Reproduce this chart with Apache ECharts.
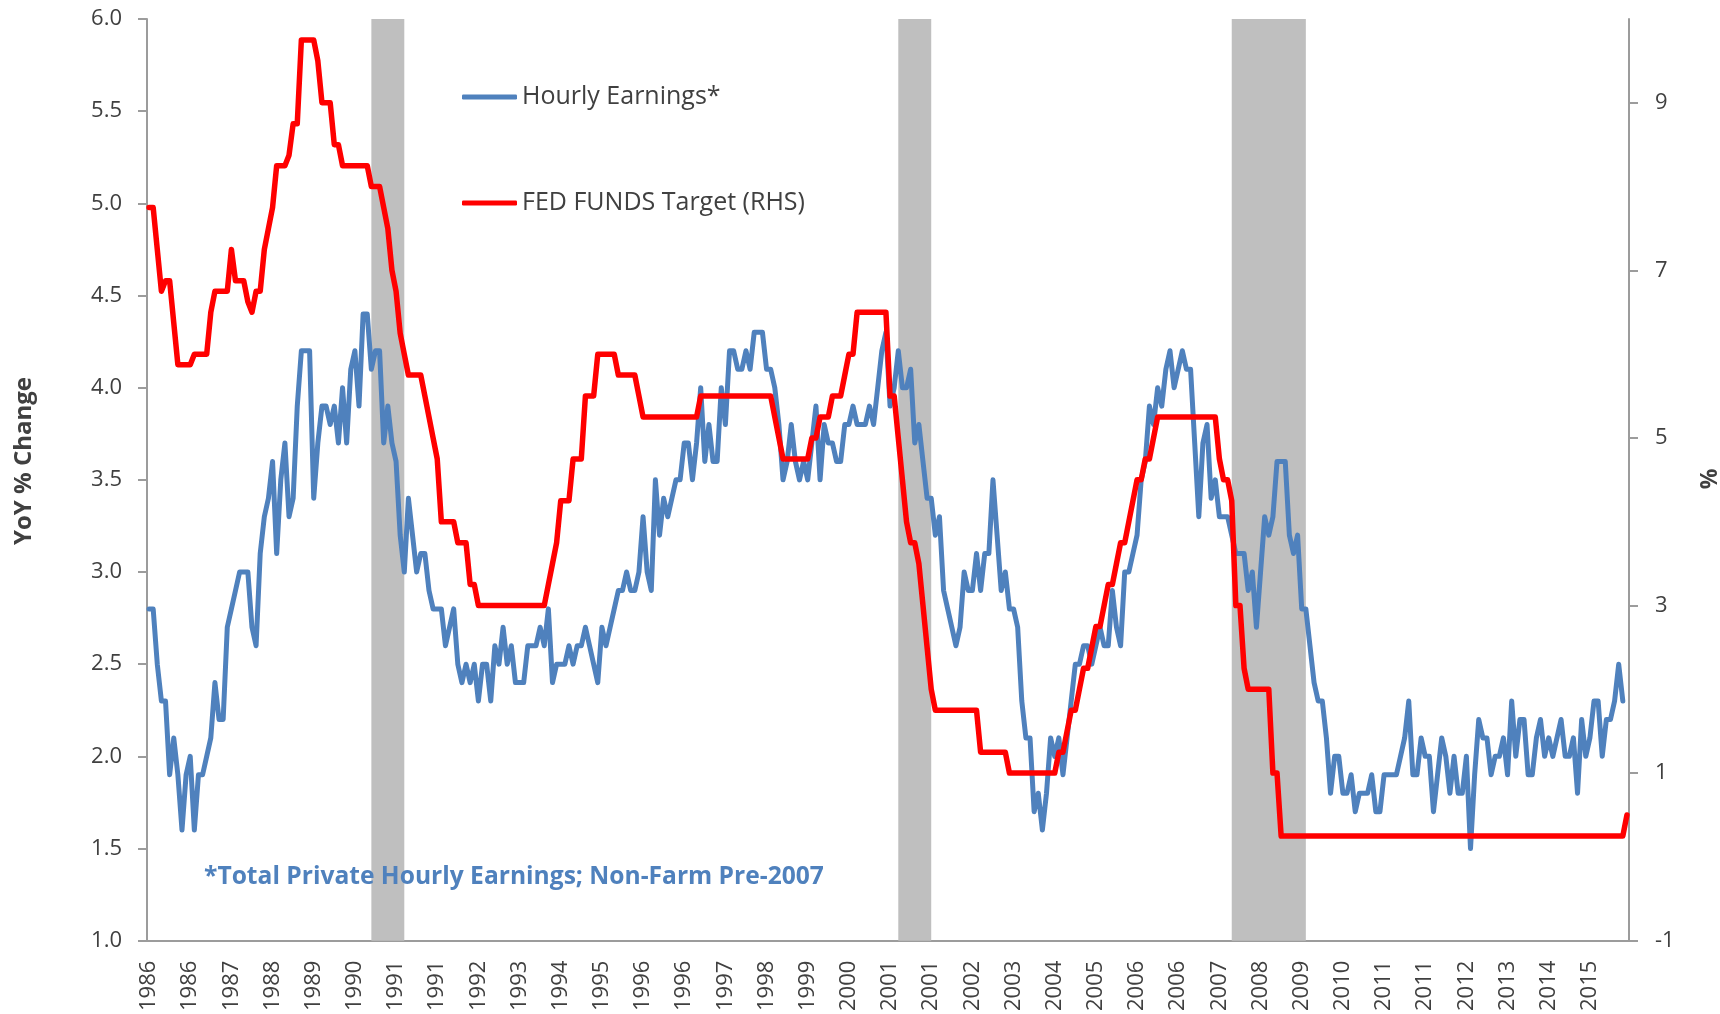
<!DOCTYPE html>
<html>
<head>
<meta charset="utf-8">
<title>Hourly Earnings vs Fed Funds Target</title>
<script src="https://cdn.jsdelivr.net/npm/echarts@6/dist/echarts.min.js"></script>
<style>
  html, body { margin: 0; padding: 0; background: #fff; }
  #chart { width: 1720px; height: 1014px; }
</style>
</head>
<body>
<div id="chart"></div>
<script>
const startYear = 1986;
const endYear = 2015;

// YoY % change of hourly earnings, one row per year (Jan..Dec)
const hourlyEarnings = [
  [2.8, 2.8, 2.5, 2.3, 2.3, 1.9, 2.1, 1.9, 1.6, 1.9, 2.0, 1.6], // 1986
  [1.9, 1.9, 2.0, 2.1, 2.4, 2.2, 2.2, 2.7, 2.8, 2.9, 3.0, 3.0],
  [3.0, 2.7, 2.6, 3.1, 3.3, 3.4, 3.6, 3.1, 3.5, 3.7, 3.3, 3.4],
  [3.9, 4.2, 4.2, 4.2, 3.4, 3.7, 3.9, 3.9, 3.8, 3.9, 3.7, 4.0],
  [3.7, 4.1, 4.2, 3.9, 4.4, 4.4, 4.1, 4.2, 4.2, 3.7, 3.9, 3.7], // 1990
  [3.6, 3.2, 3.0, 3.4, 3.2, 3.0, 3.1, 3.1, 2.9, 2.8, 2.8, 2.8],
  [2.6, 2.7, 2.8, 2.5, 2.4, 2.5, 2.4, 2.5, 2.3, 2.5, 2.5, 2.3],
  [2.6, 2.5, 2.7, 2.5, 2.6, 2.4, 2.4, 2.4, 2.6, 2.6, 2.6, 2.7],
  [2.6, 2.8, 2.4, 2.5, 2.5, 2.5, 2.6, 2.5, 2.6, 2.6, 2.7, 2.6],
  [2.5, 2.4, 2.7, 2.6, 2.7, 2.8, 2.9, 2.9, 3.0, 2.9, 2.9, 3.0], // 1995
  [3.3, 3.0, 2.9, 3.5, 3.2, 3.4, 3.3, 3.4, 3.5, 3.5, 3.7, 3.7],
  [3.5, 3.7, 4.0, 3.6, 3.8, 3.6, 3.6, 4.0, 3.8, 4.2, 4.2, 4.1],
  [4.1, 4.2, 4.1, 4.3, 4.3, 4.3, 4.1, 4.1, 4.0, 3.8, 3.5, 3.6],
  [3.8, 3.6, 3.5, 3.6, 3.5, 3.7, 3.9, 3.5, 3.8, 3.7, 3.7, 3.6],
  [3.6, 3.8, 3.8, 3.9, 3.8, 3.8, 3.8, 3.9, 3.8, 4.0, 4.2, 4.3], // 2000
  [3.9, 4.0, 4.2, 4.0, 4.0, 4.1, 3.7, 3.8, 3.6, 3.4, 3.4, 3.2],
  [3.3, 2.9, 2.8, 2.7, 2.6, 2.7, 3.0, 2.9, 2.9, 3.1, 2.9, 3.1],
  [3.1, 3.5, 3.2, 2.9, 3.0, 2.8, 2.8, 2.7, 2.3, 2.1, 2.1, 1.7],
  [1.8, 1.6, 1.8, 2.1, 2.0, 2.1, 1.9, 2.1, 2.3, 2.5, 2.5, 2.6],
  [2.6, 2.5, 2.6, 2.7, 2.6, 2.6, 2.9, 2.7, 2.6, 3.0, 3.0, 3.1], // 2005
  [3.2, 3.5, 3.6, 3.9, 3.8, 4.0, 3.9, 4.1, 4.2, 4.0, 4.1, 4.2],
  [4.1, 4.1, 3.7, 3.3, 3.7, 3.8, 3.4, 3.5, 3.3, 3.3, 3.3, 3.2],
  [3.1, 3.1, 3.1, 2.9, 3.0, 2.7, 3.0, 3.3, 3.2, 3.3, 3.6, 3.6],
  [3.6, 3.2, 3.1, 3.2, 2.8, 2.8, 2.6, 2.4, 2.3, 2.3, 2.1, 1.8],
  [2.0, 2.0, 1.8, 1.8, 1.9, 1.7, 1.8, 1.8, 1.8, 1.9, 1.7, 1.7], // 2010
  [1.9, 1.9, 1.9, 1.9, 2.0, 2.1, 2.3, 1.9, 1.9, 2.1, 2.0, 2.0],
  [1.7, 1.9, 2.1, 2.0, 1.8, 2.0, 1.8, 1.8, 2.0, 1.5, 1.9, 2.2],
  [2.1, 2.1, 1.9, 2.0, 2.0, 2.1, 1.9, 2.3, 2.0, 2.2, 2.2, 1.9],
  [1.9, 2.1, 2.2, 2.0, 2.1, 2.0, 2.1, 2.2, 2.0, 2.0, 2.1, 1.8],
  [2.2, 2.0, 2.1, 2.3, 2.3, 2.0, 2.2, 2.2, 2.3, 2.5, 2.3]        // 2015
];

// Fed funds target, end of month (RHS)
const fedFunds = [
  [7.75, 7.75, 7.25, 6.75, 6.875, 6.875, 6.375, 5.875, 5.875, 5.875, 5.875, 6.0], // 1986
  [6.0, 6.0, 6.0, 6.5, 6.75, 6.75, 6.75, 6.75, 7.25, 6.875, 6.875, 6.875],
  [6.625, 6.5, 6.75, 6.75, 7.25, 7.5, 7.75, 8.25, 8.25, 8.25, 8.375, 8.75],
  [8.75, 9.75, 9.75, 9.75, 9.75, 9.5, 9.0, 9.0, 9.0, 8.5, 8.5, 8.25],
  [8.25, 8.25, 8.25, 8.25, 8.25, 8.25, 8.0, 8.0, 8.0, 7.75, 7.5, 7.0], // 1990
  [6.75, 6.25, 6.0, 5.75, 5.75, 5.75, 5.75, 5.5, 5.25, 5.0, 4.75, 4.0],
  [4.0, 4.0, 4.0, 3.75, 3.75, 3.75, 3.25, 3.25, 3.0, 3.0, 3.0, 3.0],
  [3.0, 3.0, 3.0, 3.0, 3.0, 3.0, 3.0, 3.0, 3.0, 3.0, 3.0, 3.0],
  [3.0, 3.25, 3.5, 3.75, 4.25, 4.25, 4.25, 4.75, 4.75, 4.75, 5.5, 5.5],
  [5.5, 6.0, 6.0, 6.0, 6.0, 6.0, 5.75, 5.75, 5.75, 5.75, 5.75, 5.5], // 1995
  [5.25, 5.25, 5.25, 5.25, 5.25, 5.25, 5.25, 5.25, 5.25, 5.25, 5.25, 5.25],
  [5.25, 5.25, 5.5, 5.5, 5.5, 5.5, 5.5, 5.5, 5.5, 5.5, 5.5, 5.5],
  [5.5, 5.5, 5.5, 5.5, 5.5, 5.5, 5.5, 5.5, 5.25, 5.0, 4.75, 4.75],
  [4.75, 4.75, 4.75, 4.75, 4.75, 5.0, 5.0, 5.25, 5.25, 5.25, 5.5, 5.5],
  [5.5, 5.75, 6.0, 6.0, 6.5, 6.5, 6.5, 6.5, 6.5, 6.5, 6.5, 6.5], // 2000
  [5.5, 5.5, 5.0, 4.5, 4.0, 3.75, 3.75, 3.5, 3.0, 2.5, 2.0, 1.75],
  [1.75, 1.75, 1.75, 1.75, 1.75, 1.75, 1.75, 1.75, 1.75, 1.75, 1.25, 1.25],
  [1.25, 1.25, 1.25, 1.25, 1.25, 1.0, 1.0, 1.0, 1.0, 1.0, 1.0, 1.0],
  [1.0, 1.0, 1.0, 1.0, 1.0, 1.25, 1.25, 1.5, 1.75, 1.75, 2.0, 2.25],
  [2.25, 2.5, 2.75, 2.75, 3.0, 3.25, 3.25, 3.5, 3.75, 3.75, 4.0, 4.25], // 2005
  [4.5, 4.5, 4.75, 4.75, 5.0, 5.25, 5.25, 5.25, 5.25, 5.25, 5.25, 5.25],
  [5.25, 5.25, 5.25, 5.25, 5.25, 5.25, 5.25, 5.25, 4.75, 4.5, 4.5, 4.25],
  [3.0, 3.0, 2.25, 2.0, 2.0, 2.0, 2.0, 2.0, 2.0, 1.0, 1.0, 0.25],
  [0.25, 0.25, 0.25, 0.25, 0.25, 0.25, 0.25, 0.25, 0.25, 0.25, 0.25, 0.25],
  [0.25, 0.25, 0.25, 0.25, 0.25, 0.25, 0.25, 0.25, 0.25, 0.25, 0.25, 0.25], // 2010
  [0.25, 0.25, 0.25, 0.25, 0.25, 0.25, 0.25, 0.25, 0.25, 0.25, 0.25, 0.25],
  [0.25, 0.25, 0.25, 0.25, 0.25, 0.25, 0.25, 0.25, 0.25, 0.25, 0.25, 0.25],
  [0.25, 0.25, 0.25, 0.25, 0.25, 0.25, 0.25, 0.25, 0.25, 0.25, 0.25, 0.25],
  [0.25, 0.25, 0.25, 0.25, 0.25, 0.25, 0.25, 0.25, 0.25, 0.25, 0.25, 0.25],
  [0.25, 0.25, 0.25, 0.25, 0.25, 0.25, 0.25, 0.25, 0.25, 0.25, 0.25, 0.5]   // 2015
];

// recession shading (start month, end month)
const recessions = [
  ["1990-07", "1991-03"],
  ["2001-03", "2001-11"],
  ["2007-12", "2009-06"]
];

const rightTicks = [-1, 1, 3, 5, 7, 9];

const font = "'Open Sans', sans-serif";
const textColor = "#404040";
const axisColor = "#9c9c9c";

let months = [];
for (let y = startYear; y <= endYear; y++) {
  for (let m = 1; m <= 12; m++) {
    months.push(y + "-" + String(m).padStart(2, "0"));
  }
}

let dom = document.getElementById("chart");
let myChart = echarts.init(dom, null, { renderer: "canvas" });

let option = {
  animation: false,
  backgroundColor: "#fff",
  grid: { left: 147, right: 91, top: 19, bottom: 73 },
  legend: {
    orient: "vertical",
    left: 457,
    top: 77,
    itemWidth: 55,
    itemHeight: 5,
    itemGap: 76,
    icon: "roundRect",
    data: ["Hourly Earnings*", "FED FUNDS Target (RHS)"],
    textStyle: { fontFamily: font, fontSize: 25, color: textColor, lineHeight: 30 }
  },
  xAxis: {
    type: "category",
    data: months,
    boundaryGap: true,
    axisLine: { onZero: false, lineStyle: { color: axisColor, width: 2 } },
    axisTick: {
      length: 10,
      interval: (i) => i % 10 === 0,
      lineStyle: { color: axisColor, width: 2 }
    },
    axisLabel: {
      rotate: 90,
      margin: 20,
      interval: (i) => i % 10 === 0,
      formatter: (v) => v.slice(0, 4),
      fontFamily: font,
      fontSize: 22,
      color: textColor
    },
    splitLine: { show: false }
  },
  yAxis: [
    {
      type: "value",
      min: 1,
      max: 6,
      interval: 0.5,
      position: "left",
      axisLine: { show: true, lineStyle: { color: axisColor, width: 2 } },
      axisTick: { show: true, length: 9, lineStyle: { color: axisColor, width: 2 } },
      axisLabel: {
        margin: 25,
        formatter: (v) => v.toFixed(1),
        fontFamily: font,
        fontSize: 22,
        color: textColor
      },
      splitLine: { show: false }
    },
    {
      type: "value",
      min: -1,
      max: 10,
      position: "right",
      axisLine: { show: true, lineStyle: { color: axisColor, width: 2 } },
      axisTick: { show: true, length: 9, customValues: rightTicks, lineStyle: { color: axisColor, width: 2 } },
      axisLabel: {
        margin: 26,
        customValues: rightTicks,
        fontFamily: font,
        fontSize: 22,
        color: textColor
      },
      splitLine: { show: false }
    }
  ],
  series: [
    {
      name: "Hourly Earnings*",
      type: "line",
      yAxisIndex: 0,
      data: hourlyEarnings.flat(),
      symbol: "none",
      z: 3,
      itemStyle: { color: "#4F81BD" },
      lineStyle: { color: "#4F81BD", width: 5, join: "round", cap: "round" },
      markArea: {
        silent: true,
        itemStyle: { color: "#BFBFBF", opacity: 1 },
        data: recessions.map((r) => [{ xAxis: r[0] }, { xAxis: r[1] }])
      }
    },
    {
      name: "FED FUNDS Target (RHS)",
      type: "line",
      yAxisIndex: 1,
      data: fedFunds.flat(),
      symbol: "none",
      z: 4,
      itemStyle: { color: "#FF0000" },
      lineStyle: { color: "#FF0000", width: 5.5, join: "round", cap: "round" }
    }
  ],
  graphic: [
    {
      type: "text",
      z: 100,
      x: 24,
      y: 461,
      rotation: Math.PI / 2,
      style: {
        text: "YoY % Change",
        fontFamily: font,
        fontSize: 24,
        fontWeight: "bold",
        fill: textColor,
        align: "center",
        verticalAlign: "middle"
      }
    },
    {
      type: "text",
      z: 100,
      x: 1710,
      y: 479,
      rotation: Math.PI / 2,
      style: {
        text: "%",
        fontFamily: font,
        fontSize: 23,
        fontWeight: "bold",
        fill: textColor,
        align: "center",
        verticalAlign: "middle"
      }
    },
    {
      type: "text",
      z: 100,
      left: 204,
      top: 864,
      style: {
        text: "*Total Private Hourly Earnings; Non-Farm Pre-2007",
        fontFamily: font,
        fontSize: 24.6,
        fontWeight: "bold",
        fill: "#4F81BD"
      }
    }
  ]
};

myChart.setOption(option);
window.addEventListener("resize", myChart.resize);
</script>
</body>
</html>
